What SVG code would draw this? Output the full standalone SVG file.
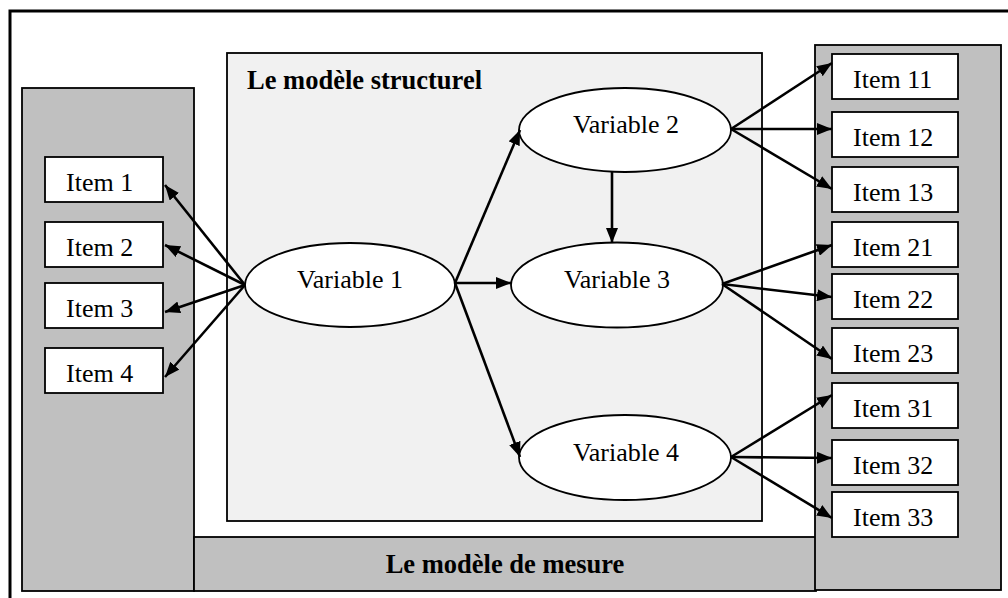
<svg xmlns="http://www.w3.org/2000/svg" width="1008" height="598" viewBox="0 0 1008 598">
<style>
.panel{fill:#c0c0c0;stroke:#000;stroke-width:1.8}
.struct{fill:#f1f1f1;stroke:#000;stroke-width:1.8}
.item{fill:#fff;stroke:#000;stroke-width:1.8}
.var{fill:#fff;stroke:#000;stroke-width:1.8}
.t{font-family:"Liberation Serif","Times New Roman",serif;font-size:26px;fill:#000}
.tb{font-family:"Liberation Serif","Times New Roman",serif;font-size:26.5px;font-weight:bold;fill:#000}
.c{text-anchor:middle}
.arr{stroke:#000;stroke-width:2.6;fill:none;marker-end:url(#ah)}
</style>
<defs>
<marker id="ah" markerUnits="userSpaceOnUse" markerWidth="16" markerHeight="12" refX="15" refY="6" orient="auto">
<path d="M0,0 L15,6 L0,12 Z" fill="#000"/>
</marker>
</defs>
<rect x="0" y="0" width="1008" height="598" fill="#fff"/>
<rect x="10" y="11" width="1010" height="600" fill="none" stroke="#000" stroke-width="3"/>

<g id="measure-left"><rect class="panel" x="22" y="88" width="172" height="503"/></g>
<g id="measure-bottom"><rect class="panel" x="194" y="537" width="622" height="54"/>
<text class="tb c" x="505" y="573">Le modèle de mesure</text></g>
<g id="measure-right"><rect class="panel" x="815" y="45" width="186" height="545"/></g>
<g id="structural"><rect class="struct" x="227" y="53" width="535" height="468"/>
<text class="tb" x="247" y="89">Le modèle structurel</text></g>

<g id="item1"><rect class="item" x="45" y="157" width="118" height="45"/><text class="t" x="66" y="191">Item 1</text></g>
<g id="item2"><rect class="item" x="45" y="222" width="118" height="45"/><text class="t" x="66" y="256">Item 2</text></g>
<g id="item3"><rect class="item" x="45" y="283" width="118" height="45"/><text class="t" x="66" y="317">Item 3</text></g>
<g id="item4"><rect class="item" x="45" y="348" width="118" height="45"/><text class="t" x="66" y="382">Item 4</text></g>

<g id="item11"><rect class="item" x="832" y="54" width="126" height="45"/><text class="t" x="853" y="88">Item 11</text></g>
<g id="item12"><rect class="item" x="832" y="112" width="126" height="45"/><text class="t" x="853" y="146">Item 12</text></g>
<g id="item13"><rect class="item" x="832" y="167" width="126" height="45"/><text class="t" x="853" y="201">Item 13</text></g>
<g id="item21"><rect class="item" x="832" y="222" width="126" height="45"/><text class="t" x="853" y="256">Item 21</text></g>
<g id="item22"><rect class="item" x="832" y="274" width="126" height="45"/><text class="t" x="853" y="308">Item 22</text></g>
<g id="item23"><rect class="item" x="832" y="328" width="126" height="45"/><text class="t" x="853" y="362">Item 23</text></g>
<g id="item31"><rect class="item" x="832" y="383" width="126" height="45"/><text class="t" x="853" y="417">Item 31</text></g>
<g id="item32"><rect class="item" x="832" y="440" width="126" height="45"/><text class="t" x="853" y="474">Item 32</text></g>
<g id="item33"><rect class="item" x="832" y="492" width="126" height="45"/><text class="t" x="853" y="526">Item 33</text></g>

<g id="var1"><ellipse class="var" cx="350" cy="285" rx="105" ry="42"/><text class="t c" x="350" y="288">Variable 1</text></g>
<g id="var2"><ellipse class="var" cx="625" cy="130" rx="106" ry="42"/><text class="t c" x="626" y="133">Variable 2</text></g>
<g id="var3"><ellipse class="var" cx="617" cy="285" rx="106" ry="42.5"/><text class="t c" x="617" y="288">Variable 3</text></g>
<g id="var4"><ellipse class="var" cx="625" cy="457.5" rx="106" ry="42.5"/><text class="t c" x="626" y="461">Variable 4</text></g>

<g id="connectors">
<line class="arr" x1="245" y1="285" x2="165" y2="185"/>
<line class="arr" x1="245" y1="285" x2="165" y2="245"/>
<line class="arr" x1="245" y1="285" x2="165" y2="312"/>
<line class="arr" x1="245" y1="285" x2="165" y2="377"/>
<line class="arr" x1="455" y1="283" x2="520" y2="130"/>
<line class="arr" x1="455" y1="283" x2="511" y2="283"/>
<line class="arr" x1="455" y1="283" x2="520" y2="457"/>
<line class="arr" x1="612" y1="172" x2="612" y2="243"/>
<line class="arr" x1="731" y1="129" x2="832" y2="63"/>
<line class="arr" x1="731" y1="129" x2="832" y2="129"/>
<line class="arr" x1="731" y1="129" x2="832" y2="189"/>
<line class="arr" x1="722" y1="284" x2="832" y2="245"/>
<line class="arr" x1="722" y1="284" x2="832" y2="297"/>
<line class="arr" x1="722" y1="284" x2="832" y2="359"/>
<line class="arr" x1="731" y1="457" x2="832" y2="395"/>
<line class="arr" x1="731" y1="457" x2="832" y2="458"/>
<line class="arr" x1="731" y1="457" x2="832" y2="518"/>
</g>
</svg>
